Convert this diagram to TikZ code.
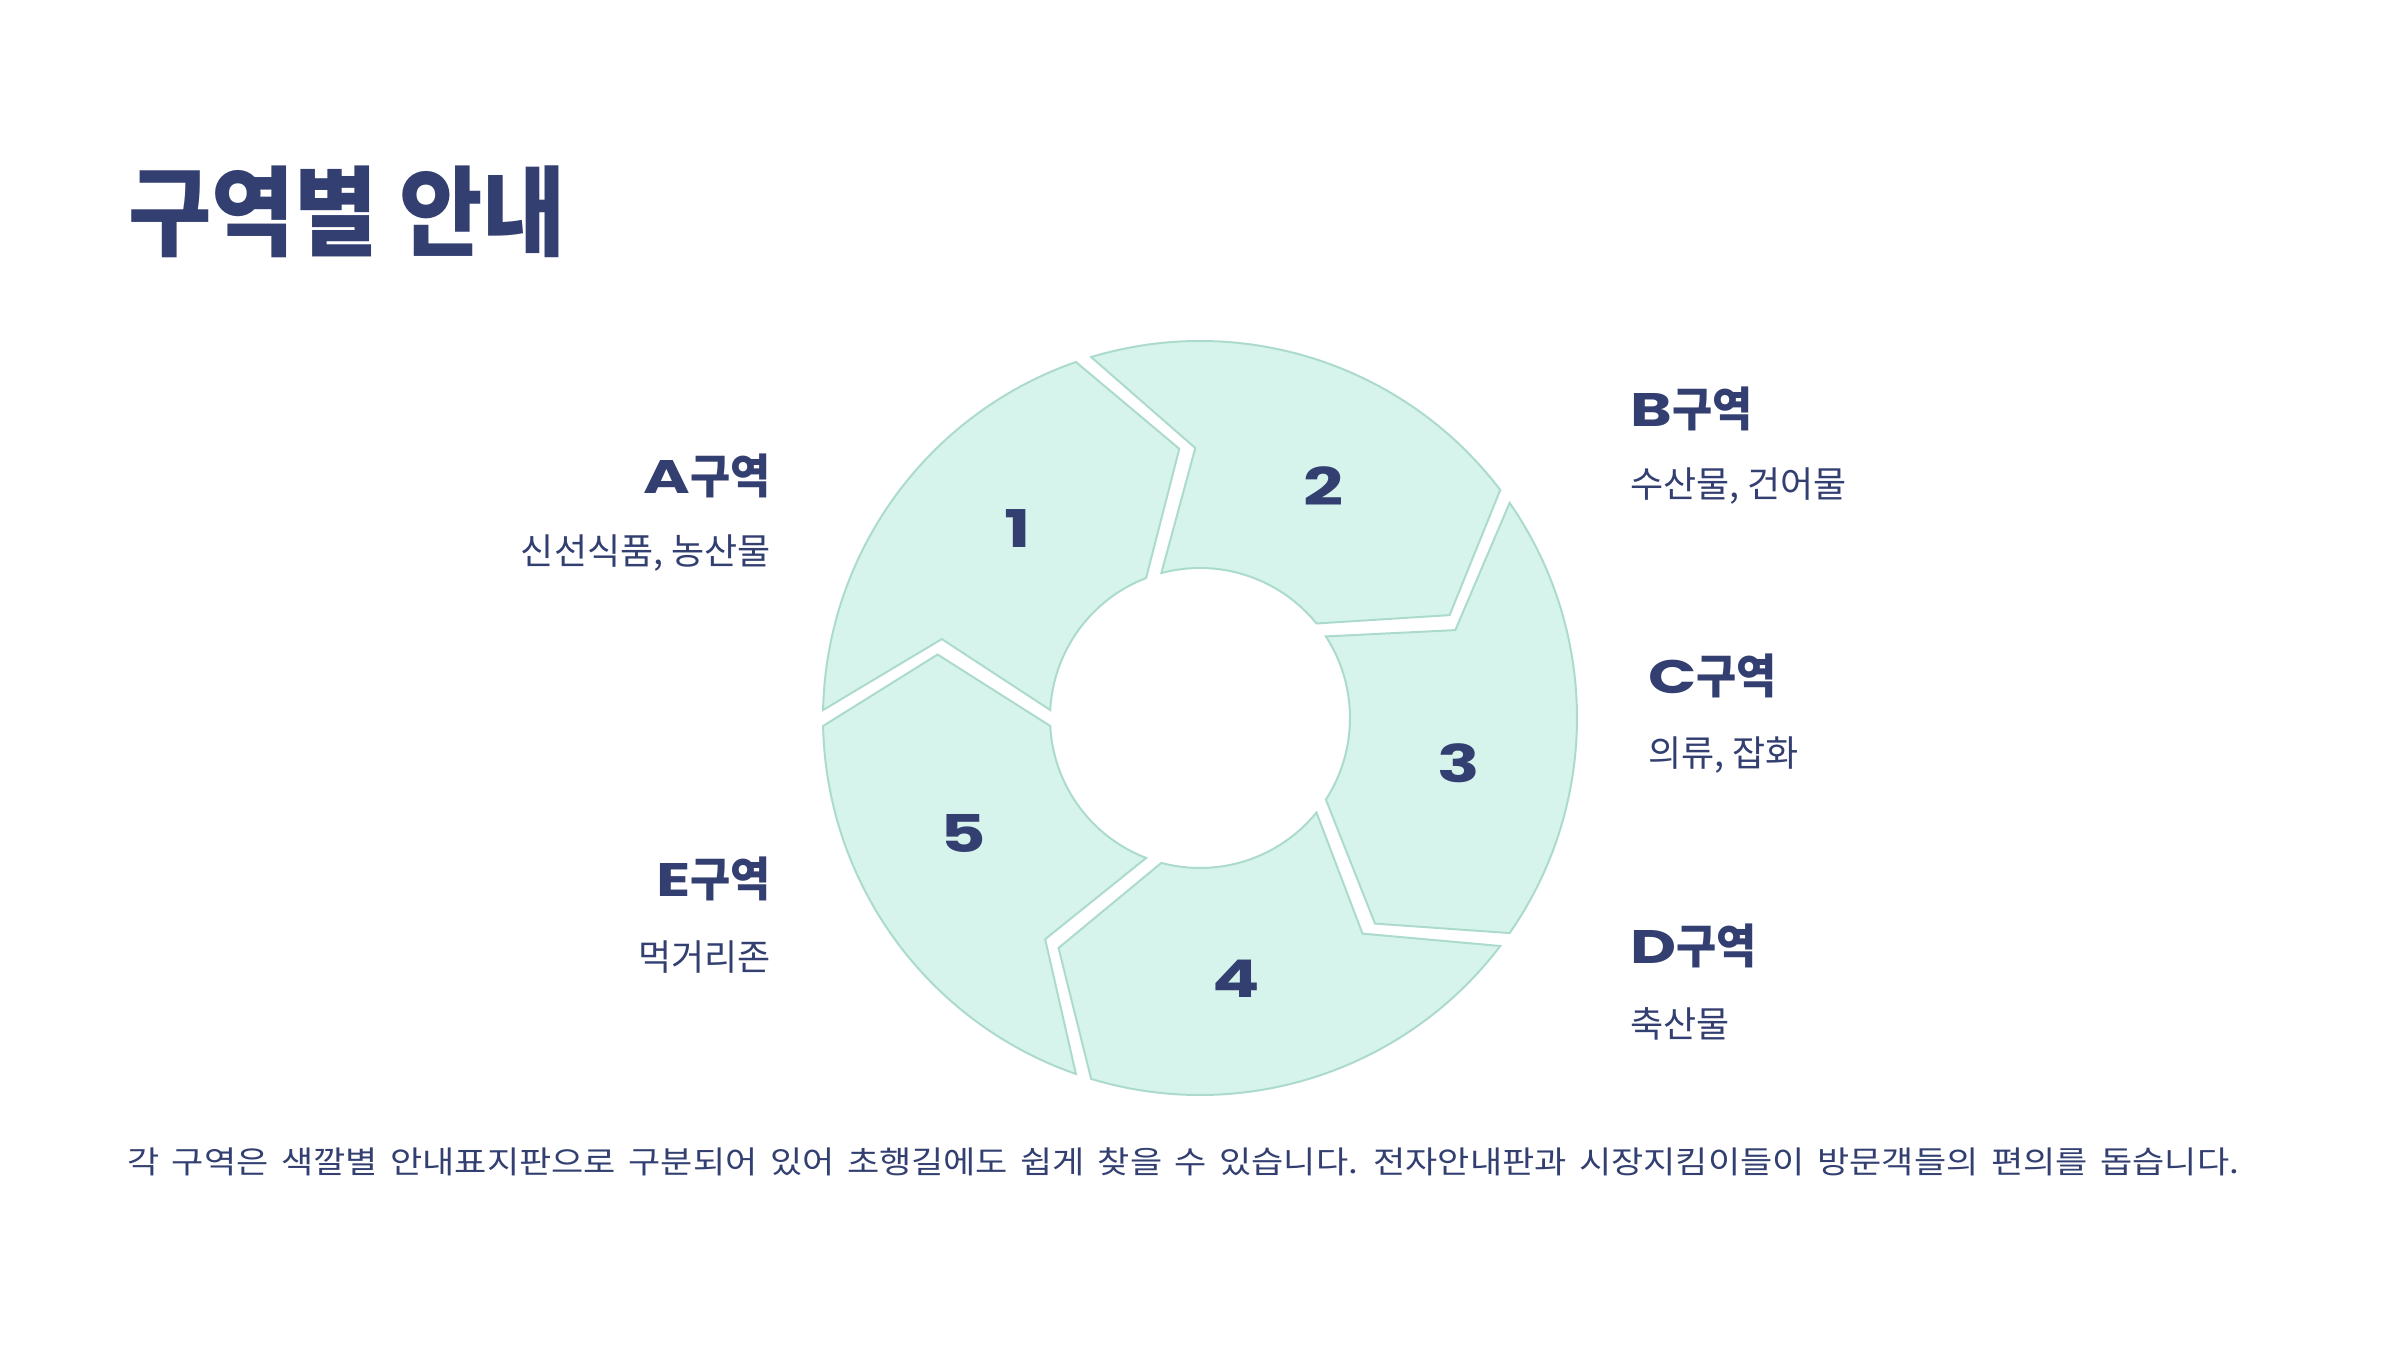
\documentclass[tikz,border=0pt]{standalone}
\usepackage{fontspec}
\newfontfamily\kr[FakeStretch=0.93]{Noto Sans CJK KR}
\newfontfamily\krT[FakeStretch=0.925]{Noto Sans CJK KR}
\newfontfamily\krd[FakeStretch=1.0]{Noto Sans CJK KR}
\newfontfamily\krbody[FakeStretch=1.13,WordSpace=1.6]{Noto Sans CJK KR}
\newfontfamily\wide[FakeStretch=1.35]{Poppins}
\definecolor{navy}{RGB}{50,63,112}
\definecolor{mint}{RGB}{214,244,236}
\definecolor{mintline}{RGB}{172,219,206}
\tikzset{
  seg/.style={fill=mint,draw=mintline,line width=2pt,line join=miter},
  numlbl/.style={text=navy,inner sep=0pt,font=\wide\bfseries\fontsize{52}{52}\selectfont},
  head/.style={text=navy,inner sep=0pt,font=\fontsize{47}{50}\selectfont},
  desc/.style={text=navy,inner sep=0pt,font=\krd\fontsize{36}{40}\selectfont},
}
\newcommand{\zone}[1]{{\wide\bfseries #1}{\kr\bfseries 구역}}
\begin{document}
\begin{tikzpicture}[x=1pt,y=1pt]
\useasboundingbox[fill=white] (0,0) rectangle (2400,1350);
\coordinate (C) at (1200,632);
\def\Ro{377}\def\Ri{150}\def\Rm{270}
\def\dO{1.216}\def\dI{3.056}\def\dM{1.70}\def\tip{15.3}
\foreach \k in {0,...,4}{
  \pgfmathsetmacro\ta{180-72*\k}
  \pgfmathsetmacro\tb{\ta-72}
  \pgfmathsetmacro\aA{\ta-\dO}
  \pgfmathsetmacro\aB{\tb+\dO}
  \pgfmathsetmacro\aC{\tb-\tip+\dM}
  \pgfmathsetmacro\aD{\tb+\dI}
  \pgfmathsetmacro\aE{\ta-\dI}
  \pgfmathsetmacro\aF{\ta-\tip-\dM}
  \draw[seg] ([shift={(\aA:\Ro)}]C) arc[start angle=\aA, end angle=\aB, radius=\Ro]
    -- ([shift={(\aC:\Rm)}]C) -- ([shift={(\aD:\Ri)}]C)
    arc[start angle=\aD, end angle=\aE, radius=\Ri]
    -- ([shift={(\aF:\Rm)}]C) -- cycle;
}
\foreach \k/\t in {0/1,1/2,2/3,3/4,4/5}{
  \pgfmathsetmacro\na{134-72*\k}
  \node[numlbl] (n\t) at ([shift={(\na:263)}]C) {\t};
}
% title
\node[anchor=west,text=navy,inner sep=0pt,font=\krT\bfseries\fontsize{98}{100}\selectfont] (title) at (128,1138) {구역별 안내};
% zone labels
\node[head,anchor=east] (ah) at (771,874) {\zone{A}};
\node[desc,anchor=east] (ad) at (771,797) {신선식품, 농산물};
\node[head,anchor=west] (bh) at (1630,941) {\zone{B}};
\node[desc,anchor=west] (bd) at (1630,864) {수산물, 건어물};
\node[head,anchor=west] (ch) at (1648,674) {\zone{C}};
\node[desc,anchor=west] (cd) at (1648,595) {의류, 잡화};
\node[head,anchor=west] (dh) at (1630,404) {\zone{D}};
\node[desc,anchor=west] (dd) at (1630,326) {축산물};
\node[head,anchor=east] (eh) at (771,471) {\zone{E}};
\node[desc,anchor=east] (ed) at (771,393) {먹거리존};
% bottom text
\node[anchor=west,text=navy,inner sep=0pt,font=\krbody\fontsize{31}{35}\selectfont] (foot) at (127,188) {각 구역은 색깔별 안내표지판으로 구분되어 있어 초행길에도 쉽게 찾을 수 있습니다. 전자안내판과 시장지킴이들이 방문객들의 편의를 돕습니다.};
\end{tikzpicture}
\end{document}
